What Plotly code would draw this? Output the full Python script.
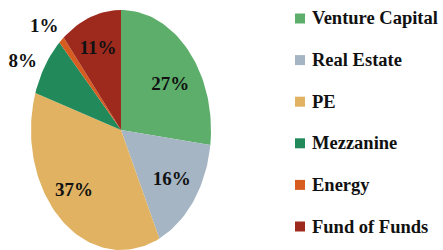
import numpy as np
import plotly.graph_objects as go

categories = ["Venture Capital", "Real Estate", "PE", "Mezzanine", "Energy", "Fund of Funds"]
shares = [27, 16, 37, 8, 1, 11]
colors = ["#5cae6a", "#a5b5c4", "#e0b262", "#22895a", "#d65c20", "#9e2a1e"]
labels = [f"{v}%" for v in shares]

# layout constants (pixels)
W, H = 443, 250
CX, CY = 121, 130        # pie centre
RX, RY = 90, 120         # horizontal / vertical radius (stretched pie)
LEG_SW_X = 300           # legend swatch centre x
LEG_TXT_X = 310          # legend text left x
LEG_Y0, LEG_DY = 18.5, 41.6
SW = 10                  # swatch size

# label placement: (angle shift from slice mid-angle in degrees, radius factor)
label_adjust = {
    "Venture Capital": (7.4, 0.66),
    "Real Estate": (0.5, 0.70),
    "PE": (4.4, 0.73),
    "Mezzanine": (-4.9, 1.23),
    "Energy": (-3.5, 1.21),
    "Fund of Funds": (-1.0, 0.72),
}

fig = go.Figure()

total = float(sum(shares))
cum = np.concatenate([[0], np.cumsum(shares)]) / total

lab_x, lab_y, lab_t = [], [], []
for i, cat in enumerate(categories):
    a0, a1 = 2 * np.pi * cum[i], 2 * np.pi * cum[i + 1]
    th = np.linspace(a0, a1, max(8, int(200 * (cum[i + 1] - cum[i]))))
    xs = np.concatenate([[0], np.sin(th), [0]])
    ys = np.concatenate([[0], np.cos(th), [0]])
    fig.add_trace(go.Scatter(x=xs, y=ys, fill="toself", mode="lines",
                             line=dict(width=0, color=colors[i]),
                             fillcolor=colors[i], showlegend=False,
                             name=cat, hoverinfo="skip"))
    shift, r = label_adjust[cat]
    mid = (a0 + a1) / 2 + np.deg2rad(shift)
    lab_x.append(r * np.sin(mid))
    lab_y.append(r * np.cos(mid))
    lab_t.append(labels[i])

fig.add_trace(go.Scatter(x=lab_x, y=lab_y, mode="text", text=lab_t,
                         textposition="middle center",
                         textfont=dict(family="Liberation Serif", size=19,
                                       color="#111111", weight="bold"),
                         showlegend=False, hoverinfo="skip"))

# hand-built legend (swatch + label per category)
for i, (cat, c) in enumerate(zip(categories, colors)):
    yc = LEG_Y0 + i * LEG_DY
    fig.add_shape(type="rect", xref="paper", yref="paper",
                  x0=(LEG_SW_X - SW / 2) / W, x1=(LEG_SW_X + SW / 2) / W,
                  y0=1 - (yc + SW / 2) / H, y1=1 - (yc - SW / 2) / H,
                  fillcolor=c, line=dict(width=0))
    fig.add_annotation(x=LEG_TXT_X / W, y=1 - yc / H, xref="paper", yref="paper",
                       text=cat, showarrow=False, xanchor="left", yanchor="middle",
                       font=dict(family="Liberation Serif", size=18.5,
                                 color="#111111", weight="bold"))

fig.update_xaxes(range=[-CX / RX, (W - CX) / RX], visible=False, fixedrange=True)
fig.update_yaxes(range=[-(H - CY) / RY, CY / RY], visible=False, fixedrange=True)

fig.update_layout(
    width=W, height=H,
    margin=dict(l=0, r=0, t=0, b=0, autoexpand=False),
    paper_bgcolor="white", plot_bgcolor="white",
    showlegend=False,
)

fig.write_html("out.html", config={"displayModeBar": False},
               post_script="document.body.style.margin='0px';")
